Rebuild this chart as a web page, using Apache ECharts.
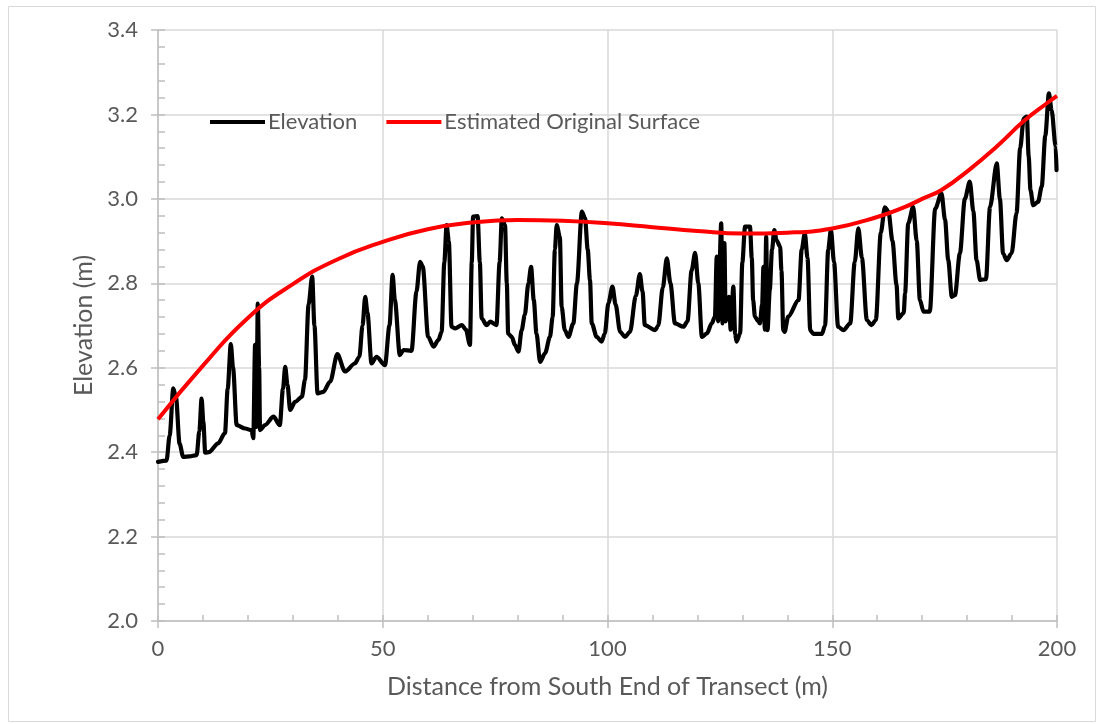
<!DOCTYPE html>
<html>
<head>
<meta charset="utf-8">
<script src="https://cdn.jsdelivr.net/npm/echarts@6/dist/echarts.min.js"></script>
<style>
html,body{margin:0;padding:0;background:#fff;}
#chart{width:1099px;height:724px;}
</style>
</head>
<body>
<div id="chart"></div>
<script>
// Elevation profile: [distance (m), elevation (m)]
const elevation = [
[0,2.377],[1.9,2.38],[2.6,2.44],[3.4,2.551],[4.0,2.53],[4.8,2.42],[5.6,2.389],[7,2.39],[8.6,2.393],[9.2,2.45],[9.7,2.527],[10.1,2.47],[10.5,2.399],[11.3,2.40],[13.4,2.421],[14.9,2.445],[15.5,2.55],[16.2,2.656],[16.7,2.60],[17.5,2.464],[19.4,2.456],[20.8,2.452],[21.2,2.433],[21.6,2.654],[21.9,2.46],[22.2,2.752],[22.5,2.60],[22.7,2.452],[23.8,2.464],[25.7,2.484],[27.1,2.464],[27.8,2.55],[28.3,2.602],[28.8,2.56],[29.4,2.50],[30.5,2.519],[32,2.531],[32.7,2.571],[33.5,2.75],[34.3,2.816],[34.8,2.70],[35.5,2.539],[36.8,2.543],[38.3,2.567],[39.9,2.632],[41.6,2.591],[43.8,2.610],[44.8,2.626],[45.5,2.70],[46.1,2.768],[46.6,2.73],[47.5,2.610],[48.6,2.626],[50.5,2.606],[51.5,2.70],[52.2,2.820],[52.7,2.76],[53.8,2.630],[54.6,2.642],[56.4,2.640],[57.5,2.78],[58.3,2.851],[58.9,2.84],[60.1,2.673],[61.3,2.650],[62.4,2.666],[63.1,2.685],[63.7,2.85],[64.2,2.938],[64.7,2.90],[65.3,2.697],[66.1,2.693],[67.6,2.701],[68.5,2.69],[69.4,2.654],[69.8,2.85],[70.1,2.958],[71.1,2.959],[71.6,2.85],[72.0,2.717],[73.1,2.701],[73.9,2.709],[75.3,2.701],[76.0,2.85],[76.5,2.954],[77.2,2.938],[77.6,2.80],[77.9,2.681],[78.7,2.673],[79.4,2.654],[80.2,2.638],[80.9,2.689],[81.6,2.725],[82.4,2.80],[83.0,2.839],[83.6,2.76],[84.2,2.681],[85.0,2.614],[86.1,2.634],[87.2,2.673],[87.8,2.72],[88.3,2.88],[88.7,2.938],[89.4,2.910],[89.8,2.744],[90.5,2.689],[91.3,2.673],[92.4,2.705],[93.2,2.80],[94.3,2.970],[95.0,2.954],[95.6,2.88],[96.1,2.808],[96.5,2.705],[97.6,2.673],[98.7,2.662],[99.4,2.681],[100.2,2.753],[101.1,2.792],[101.8,2.75],[102.8,2.685],[103.9,2.673],[105.0,2.685],[106.3,2.77],[107.2,2.822],[107.8,2.78],[108.3,2.701],[110.6,2.689],[111.3,2.70],[112.3,2.79],[113.2,2.859],[114.0,2.80],[115.0,2.705],[116.9,2.697],[117.8,2.71],[118.7,2.83],[119.5,2.872],[120.2,2.80],[121.0,2.673],[122.1,2.681],[123.2,2.705],[123.9,2.721],[124.3,2.863],[124.6,2.71],[125.3,2.942],[125.6,2.705],[126.0,2.895],[126.3,2.71],[127.0,2.768],[127.4,2.69],[128.0,2.792],[128.4,2.68],[128.7,2.662],[129.5,2.681],[130.0,2.85],[130.6,2.934],[131.7,2.934],[132.1,2.86],[132.4,2.760],[132.8,2.721],[133.5,2.71],[133.9,2.705],[134.4,2.75],[134.7,2.839],[135.0,2.69],[135.3,2.910],[135.6,2.689],[136.1,2.784],[136.6,2.88],[137.1,2.926],[137.6,2.902],[138.4,2.887],[138.7,2.83],[139.1,2.689],[139.4,2.685],[140.2,2.721],[142.5,2.760],[143.2,2.88],[143.9,2.918],[144.5,2.86],[145.1,2.689],[145.8,2.680],[147.7,2.680],[148.4,2.70],[149.1,2.88],[149.7,2.926],[150.4,2.85],[151.3,2.697],[152.5,2.689],[154.0,2.705],[155.0,2.85],[155.8,2.930],[156.6,2.86],[157.7,2.713],[158.7,2.701],[159.7,2.713],[160.8,2.92],[161.7,2.980],[162.5,2.970],[163.4,2.90],[164.3,2.796],[164.7,2.717],[165.9,2.73],[166.2,2.776],[166.9,2.942],[168.0,2.981],[168.8,2.90],[169.5,2.760],[170.3,2.733],[171.7,2.733],[172.9,2.977],[174.3,3.013],[175.1,2.95],[175.8,2.855],[176.6,2.768],[177.3,2.772],[178.4,2.871],[179.5,3.00],[180.6,3.041],[181.4,2.97],[182.1,2.855],[182.9,2.808],[184.2,2.81],[185.1,2.981],[186.6,3.084],[187.3,3.00],[188.0,2.871],[188.8,2.855],[189.9,2.871],[191.0,2.966],[191.8,3.12],[192.6,3.191],[193.3,3.195],[193.7,3.10],[194.1,3.021],[194.7,2.985],[195.8,2.993],[196.6,3.029],[197.4,3.15],[198.2,3.250],[198.8,3.210],[199.7,3.124],[199.9,3.068]
];
// Estimated original surface: [distance (m), elevation (m)]
const originalSurface = [
[0,2.478],[10,2.605],[20,2.718],[30,2.798],[40,2.857],[50,2.898],[60,2.928],[70,2.944],[80,2.950],[90,2.948],[100,2.942],[110,2.933],[120,2.924],[130,2.918],[140,2.920],[150,2.930],[160,2.957],[166.2,2.981],[170,3.000],[174.3,3.021],[180.6,3.070],[186.6,3.124],[192.5,3.183],[198.2,3.230],[200,3.244]
];
const seriesNames = ['Elevation', 'Estimated Original Surface'];
const xTitle = 'Distance from South End of Transect (m)';
const yTitle = 'Elevation (m)';

const FONT = 'Lato';
const TXT = '#595959';
const AX = '#bfbfbf';
const GRID = '#d9d9d9';

const chart = echarts.init(document.getElementById('chart'), null, {renderer: 'canvas'});
chart.setOption({
  animation: false,
  backgroundColor: '#fff',
  graphic: [{
    type: 'rect', left: 6, top: 4, z: -1,
    shape: {width: 1087, height: 715},
    style: {fill: 'none', stroke: GRID, lineWidth: 1}
  }],
  grid: {left: 158, right: 42, top: 30, bottom: 103, containLabel: false},
  legend: {
    left: 205, top: 106,
    icon: 'rect',
    itemWidth: 55, itemHeight: 4, itemGap: 29,
    textStyle: {fontFamily: FONT, fontSize: 22, color: TXT, padding: [0,0,0,-2]},
    data: seriesNames
  },
  xAxis: [{
    type: 'value', min: 0, max: 200, interval: 50,
    name: xTitle, nameLocation: 'middle', nameGap: 53,
    nameTextStyle: {fontFamily: FONT, fontSize: 25, color: TXT},
    axisLine: {show: true, lineStyle: {color: AX, width: 1.5}},
    axisTick: {show: true, inside: false, length: 7, lineStyle: {color: AX, width: 1.5}},
    axisLabel: {fontFamily: FONT, fontSize: 22, color: TXT, margin: 17},
    splitLine: {show: true, lineStyle: {color: GRID, width: 1.5}}
  }, {
    type: 'value', min: 0, max: 200, interval: 10, position: 'bottom',
    axisLine: {show: false},
    axisTick: {show: true, inside: true, length: 6, lineStyle: {color: AX, width: 1.5}},
    axisLabel: {show: false}, splitLine: {show: false}
  }],
  yAxis: [{
    type: 'value', min: 2.0, max: 3.4, interval: 0.2,
    name: yTitle, nameLocation: 'middle', nameGap: 60, nameRotate: 90,
    nameTextStyle: {fontFamily: FONT, fontSize: 25, color: TXT},
    axisLine: {show: true, lineStyle: {color: AX, width: 1.5}},
    axisTick: {show: true, inside: false, length: 7, lineStyle: {color: AX, width: 1.5}},
    axisLabel: {fontFamily: FONT, fontSize: 22, color: TXT, margin: 20,
      formatter: v => v.toFixed(1)},
    splitLine: {show: true, lineStyle: {color: GRID, width: 1.5}}
  }, {
    type: 'value', min: 2.0, max: 3.4, interval: 0.04, position: 'left',
    axisLine: {show: false},
    axisTick: {show: true, inside: true, length: 7, lineStyle: {color: AX, width: 1.5}},
    axisLabel: {show: false}, splitLine: {show: false}
  }],
  series: [{
    name: seriesNames[0], type: 'line', data: elevation,
    symbol: 'none', smooth: 0.3, smoothMonotone: 'x', z: 3,
    lineStyle: {color: '#000', width: 4.2, join: 'round', cap: 'round'},
    itemStyle: {color: '#000'}
  }, {
    name: seriesNames[1], type: 'line', data: originalSurface,
    symbol: 'none', smooth: true, z: 4,
    lineStyle: {color: '#ff0000', width: 4},
    itemStyle: {color: '#ff0000'}
  }]
});
</script>
</body>
</html>
